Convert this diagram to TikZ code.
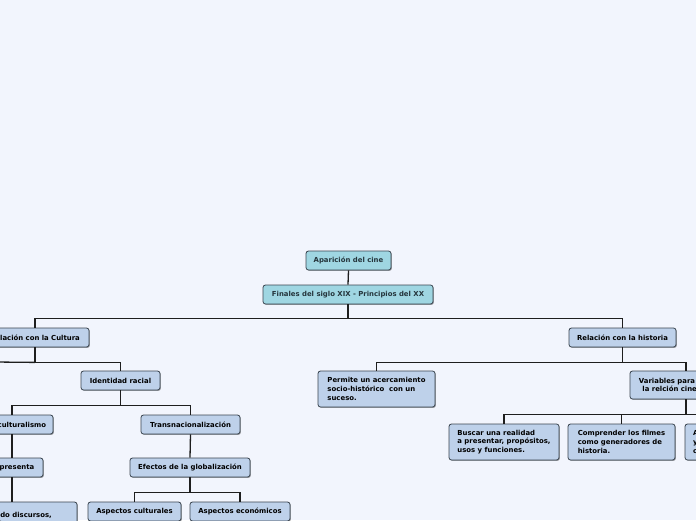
\documentclass[tikz,border=0pt]{standalone}
\usepackage{fontspec}
\setmainfont{DejaVu Sans}
\usetikzlibrary{shadows}
\definecolor{bg}{HTML}{F2F5FD}
\definecolor{cyanfill}{HTML}{9FD6E2}
\definecolor{bluefill}{HTML}{BED1EA}
\definecolor{edge}{HTML}{3A4550}
\definecolor{conn}{HTML}{1E1E1E}
\definecolor{toptext}{HTML}{25353C}
\tikzset{
  box/.style={draw=edge, fill=bluefill, line width=0.8pt, rounded corners=2.5pt,
    inner sep=0pt, font=\bfseries\fontsize{6.9}{8.6}\selectfont, text=black,
    drop shadow={shadow xshift=0.9pt, shadow yshift=-0.9pt, opacity=0.35, fill=black}},
  topbox/.style={box, fill=cyanfill, text=toptext},
  link/.style={draw=conn, line width=1.3pt}
}
\begin{document}
\begin{tikzpicture}[x=1pt,y=-1pt]
\fill[bg] (0,0) rectangle (696,520);
\useasboundingbox (0,0) rectangle (696,520);
\clip (0,0) rectangle (696,520);

% nodes
\node[topbox, minimum width=85pt, minimum height=19pt] (ap) at (348.5,260.5) {Aparición del cine};
\node[topbox, minimum width=170pt, minimum height=19pt] (fin) at (348,294.5) {Finales del siglo XIX - Principios del XX};
\node[box, minimum width=108pt, minimum height=19pt] (cult) at (35,337.5) {Relación con la Cultura};
\node[box, minimum width=107pt, minimum height=19pt] (hist) at (622.5,337.5) {Relación con la historia};
\node[box, minimum width=79pt, minimum height=19pt] (ide) at (120.5,380.5) {Identidad racial};
\node[box, minimum width=117pt, minimum height=36pt, align=left] (perm) at (376.5,389) {Permite un acercamiento\\socio-histórico\ \ con un\\suceso.};
\node[box, minimum width=112pt, minimum height=28pt, align=center] (var) at (686,385) {Variables para entender\\la relción cine-historia};
\node[box, minimum width=82pt, minimum height=19pt] (multi) at (12,424.5) {Multiculturalismo};
\node[box, minimum width=99pt, minimum height=19pt] (trans) at (190.5,424.5) {Transnacionalización};
\node[box, minimum width=110pt, minimum height=36pt, align=left] (busc) at (504,442) {Buscar una realidad\\a presentar, propósitos,\\usos y funciones.};
\node[box, minimum width=107pt, minimum height=36pt, align=left] (comp) at (621.5,442) {Comprender los filmes\\como generadores de\\historia.};
\node[box, minimum height=36pt, inner xsep=8pt, text width=94pt, align=left] (third) at (740,442) {Analizar el contexto\\y la época de\\creación.};
\node[box, minimum width=62pt, minimum height=19pt] (rep) at (12,467.5) {Representa};
\node[box, minimum width=120pt, minimum height=19pt] (efe) at (190,467.5) {Efectos de la globalización};
\node[box, minimum width=130pt, minimum height=36pt, align=left] (gen) at (12,520) {Generado discursos,\\ideas, formas};
\node[box, minimum width=93pt, minimum height=19pt] (asc) at (134.5,511.5) {Aspectos culturales};
\node[box, minimum width=100pt, minimum height=19pt] (ase) at (240,511.5) {Aspectos económicos};
\coordinate (jl) at (-5,362);

% connectors
\draw[link] (ap.south) -- (fin.north);
\draw[link] (fin.south) -- ++(0,14) coordinate (j0) -| (cult.north);
\draw[link] (j0) -| (hist.north);
\draw[link] (cult.south) -- ++(0,15) coordinate (j1) -| (ide.north);
\draw[link] (j1) -- (jl);
\draw[link] (hist.south) -- ++(0,15) coordinate (j2) -| (perm.north);
\draw[link] (j2) -| (var.north);
\draw[link] (ide.south) -- ++(0,15) coordinate (j3) -| (multi.north);
\draw[link] (j3) -| (trans.north);
\draw[link] (multi.south) -- (rep.north);
\draw[link] (rep.south) -- (gen.north);
\draw[link] (trans.south) -- (efe.north);
\draw[link] (efe.south) -- ++(0,15) coordinate (j4) -| (asc.north);
\draw[link] (j4) -| (ase.north);
\draw[link] (var.south) -- ++(0,15) coordinate (j5) -| (busc.north);
\draw[link] (j5) -| (comp.north);
\draw[link] (j5) -| (third.north);
\end{tikzpicture}
\end{document}
